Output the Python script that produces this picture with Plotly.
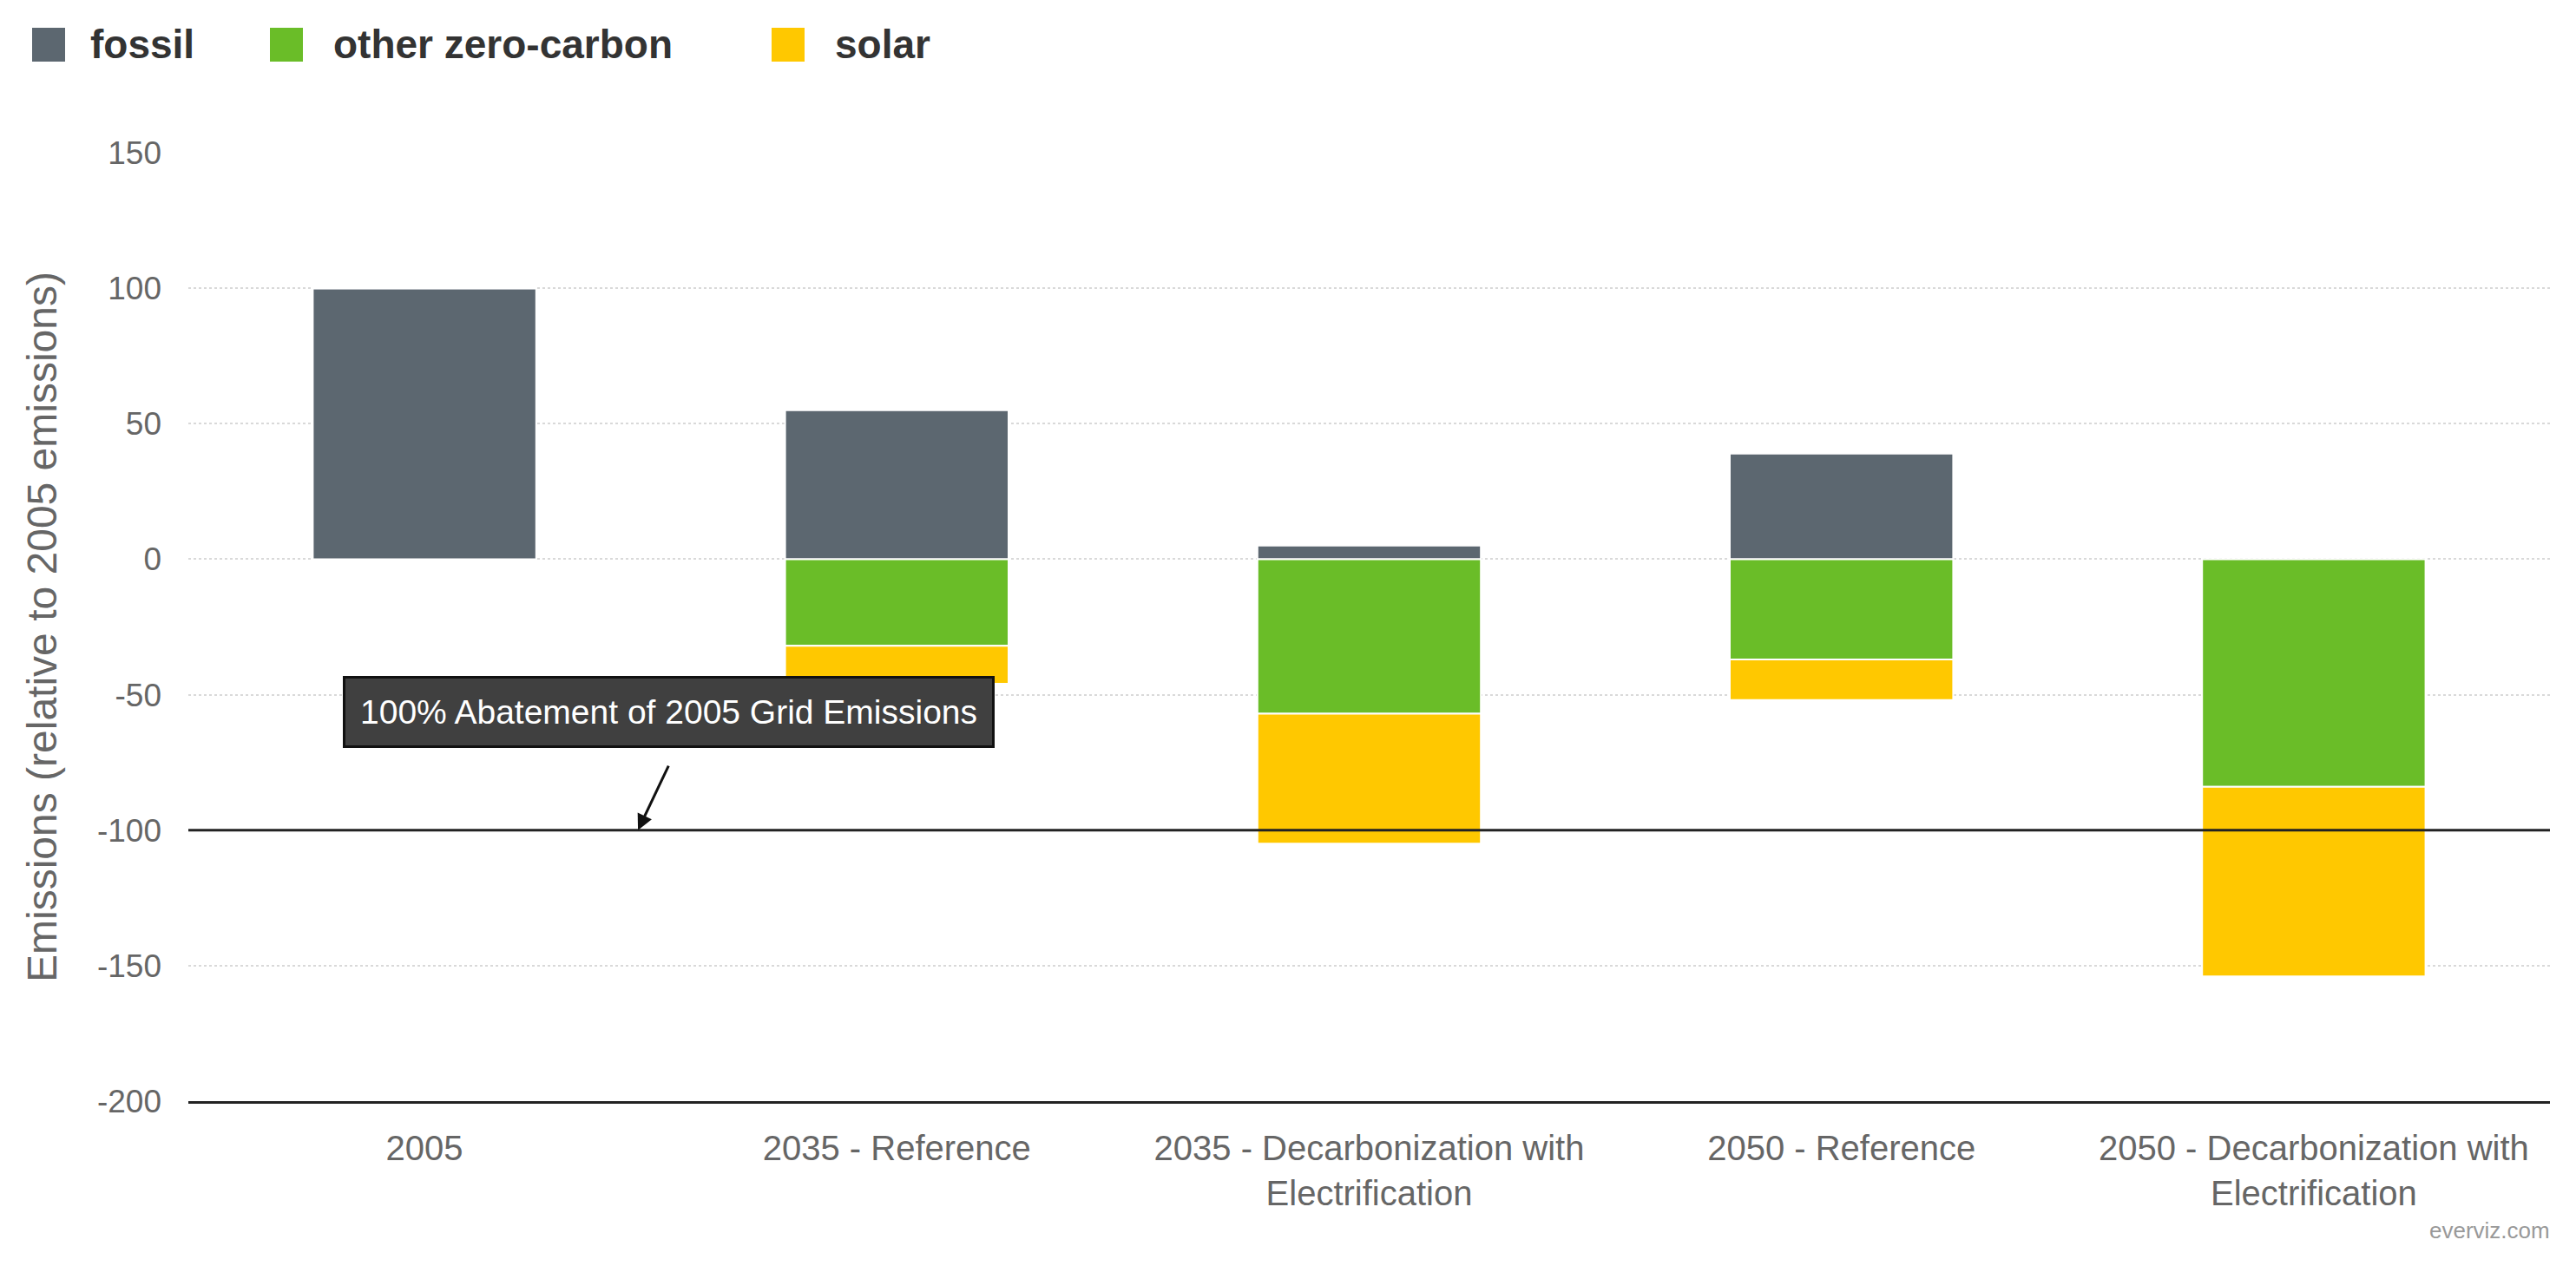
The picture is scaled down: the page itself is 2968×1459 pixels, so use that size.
import plotly.graph_objects as go

categories = ["2005", "2035 - Reference", "2035 - Decarbonization with<br>Electrification",
              "2050 - Reference", "2050 - Decarbonization with<br>Electrification"]
series_names = ["fossil", "other zero-carbon", "solar"]
fossil = [100, 55, 5, 39, 0]
other_zero_carbon = [0, -32, -57, -37, -84]
solar = [0, -14, -48, -15, -70]
colors = ["#5c6770", "#6abd28", "#ffc800"]
y_ticks = [150, 100, 50, 0, -50, -100, -150, -200]
y_tick_labels = ["150", "100", "50", "0", "-50", "-100", "-150", "-200"]
abatement_level = -100
abatement_text = "100% Abatement of 2005 Grid Emissions"

W, H = 2968, 1459
L, R, T, B = 209, 38, 168, 198
pw, ph = W - L - R, H - T - B

def px_x(p):
    return (p - L) / pw

def px_y(p):
    return (H - B - p) / ph

FONT = "Liberation Sans, Arial, sans-serif"

fig = go.Figure()
for name, vals, c in zip(series_names, [fossil, other_zero_carbon, solar], colors):
    fig.add_trace(go.Bar(x=categories, y=vals, name=name, marker_color=c,
                         marker_line_color="white", marker_line_width=2,
                         showlegend=False))

# reference line
fig.add_shape(type="line", xref="paper", x0=0, x1=1, yref="y", y0=abatement_level, y1=abatement_level,
              line=dict(color="#222222", width=3))

# annotation arrow
fig.add_annotation(x=0.452, y=abatement_level, xref="x", yref="y", ax=0.518, ay=-75.8,
                   axref="x", ayref="y", text="", showarrow=True, arrowhead=2, arrowsize=1.2,
                   arrowwidth=3, arrowcolor="#111111")
# annotation label
fig.add_annotation(x=0.517, y=-56.4, xref="x", yref="y", text=abatement_text, showarrow=False,
                   font=dict(family=FONT, size=39, color="white"), bgcolor="#404040",
                   bordercolor="#111111", borderwidth=3, borderpad=17)

# custom legend
legend_boxes = [(29, 67, 94), (303, 341, 374), (881, 919, 952)]
for (x0, x1, tx), name, c in zip(legend_boxes, series_names, colors):
    fig.add_shape(type="rect", xref="paper", yref="paper", x0=px_x(x0), x1=px_x(x1),
                  y0=px_y(63), y1=px_y(24), fillcolor=c, line=dict(width=0))
    fig.add_annotation(xref="paper", yref="paper", x=px_x(tx), y=px_y(43), text="<b>%s</b>" % name,
                       showarrow=False, xanchor="left", yanchor="middle",
                       font=dict(family=FONT, size=46, color="#333333"))

# credit
fig.add_annotation(xref="paper", yref="paper", x=px_x(2932), y=px_y(1410), text="everviz.com",
                   showarrow=False, xanchor="right", yanchor="middle",
                   font=dict(family=FONT, size=26, color="#999999"))

fig.update_layout(
    width=W, height=H, barmode="relative", bargap=0.527,
    margin=dict(l=L, r=R, t=T, b=B),
    plot_bgcolor="white", paper_bgcolor="white",
    font=dict(family=FONT, color="#666666"),
    xaxis=dict(range=[-0.5, 4.5], showline=True, linecolor="#222222", linewidth=3,
               showgrid=False, tickfont=dict(size=40, color="#666666"), ticks="",
               ticklabelstandoff=17),
    yaxis=dict(range=[-200, 150], tickvals=y_ticks, ticktext=y_tick_labels, showgrid=True,
               gridcolor="#d9d9d9", gridwidth=2, griddash="dot", zeroline=False, ticks="",
               tickfont=dict(size=37, color="#666666"), ticklabelstandoff=30,
               title=dict(text="Emissions (relative to 2005 emissions)", standoff=31,
                          font=dict(size=48, color="#666666"))),
)

fig.write_html("out.html")
